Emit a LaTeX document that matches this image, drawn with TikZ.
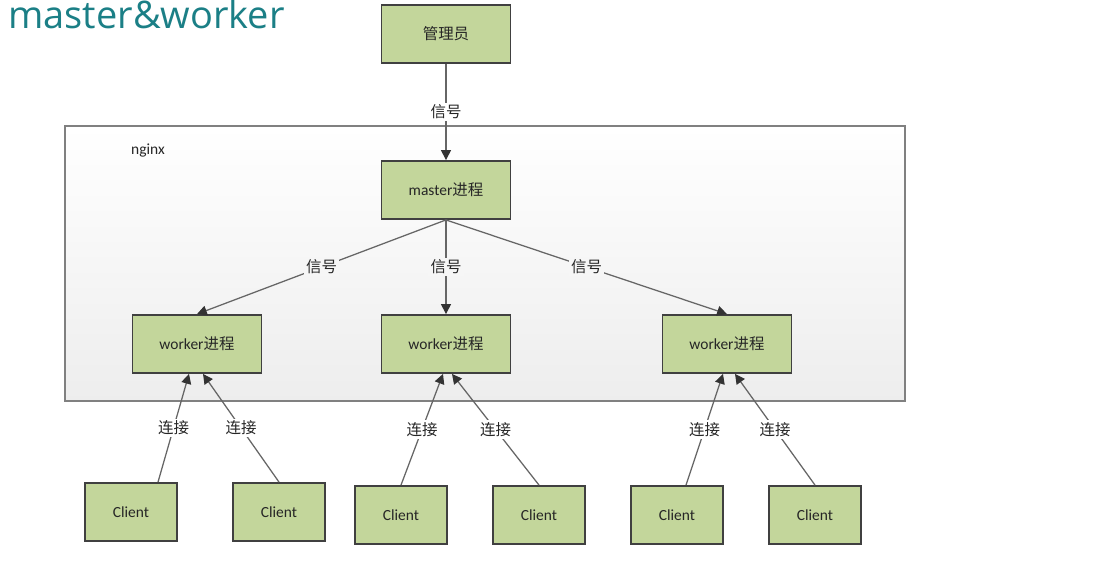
\documentclass[tikz,border=0pt]{standalone}
\usepackage{fontspec}
\setmainfont{Carlito}
\newfontfamily\cjk{Noto Sans CJK SC}
\newfontfamily\titlefont{Open Sans}
\usetikzlibrary{arrows.meta}
\definecolor{boxgreen}{HTML}{C3D69B}
\definecolor{boxline}{HTML}{404040}
\definecolor{titleteal}{HTML}{1B7F86}
\definecolor{framemid}{HTML}{F6F6F6}

\begin{document}
\begin{tikzpicture}[x=0.025cm,y=-0.025cm,
    every node/.style={font=\fontsize{11}{13}\selectfont,text=black!85},
    proc/.style={draw=boxline,line width=1.3pt,fill=boxgreen,minimum width=3.225cm,minimum height=1.45cm,inner sep=0pt},
    client/.style={proc,minimum width=2.3cm},
    link/.style={draw=black!60,line width=0.9pt,-{Triangle[length=7pt,width=7pt,color=black!80]}},
    tag/.style={fill=white,inner sep=1.5pt}]
    \useasboundingbox (0,0) rectangle (1101,584);

    % titulo y marco de nginx
    \node[anchor=base west,inner sep=0pt,text=titleteal,font=\titlefont\fontsize{27}{32}\selectfont](title) at (8,29) {master\&worker};
    \draw[draw=black!50,line width=1pt,top color=white,bottom color=black!7] (65,126) rectangle (905,401);
    \node(nginxlbl) at (148,151) {nginx};

    % procesos
    \node[proc](mgr) at (446,34) {\cjk 管理员};
    \node[proc](master) at (446,190) {master{\cjk 进程}};
    \node[proc](w1) at (197,344) {worker{\cjk 进程}};
    \node[proc](w2) at (446,344) {worker{\cjk 进程}};
    \node[proc](w3) at (727,344) {worker{\cjk 进程}};

    % clientes
    \node[client](c1) at (131,512) {Client};
    \node[client](c2) at (279,512) {Client};
    \node[client](c3) at (401,515) {Client};
    \node[client](c4) at (539,515) {Client};
    \node[client](c5) at (677,515) {Client};
    \node[client](c6) at (815,515) {Client};

    \draw[link] (mgr) to node[midway,tag]{\cjk 信号} (master);
    \draw[link] (master.south) to node[midway,tag,fill=framemid]{\cjk 信号} (w1.north);
    \draw[link] (master.south) to node[midway,tag,fill=framemid]{\cjk 信号} (w2.north);
    \draw[link] (master.south) to node[midway,tag,fill=framemid]{\cjk 信号} (w3.north);

    \draw[link] ([xshift=0.675cm]c1.north) to node[midway,tag]{\cjk 连接} ([xshift=-0.2cm]w1.south);
    \draw[link] (c2.north) to node[midway,tag]{\cjk 连接} ([xshift=0.15cm]w1.south);
    \draw[link] (c3.north) to node[midway,tag]{\cjk 连接} ([xshift=-0.075cm]w2.south);
    \draw[link] (c4.north) to node[midway,tag]{\cjk 连接} ([xshift=0.15cm]w2.south);
    \draw[link] ([xshift=0.225cm]c5.north) to node[midway,tag]{\cjk 连接} ([xshift=-0.1cm]w3.south);
    \draw[link] (c6.north) to node[midway,tag]{\cjk 连接} ([xshift=0.2cm]w3.south);
\end{tikzpicture}
\end{document}
